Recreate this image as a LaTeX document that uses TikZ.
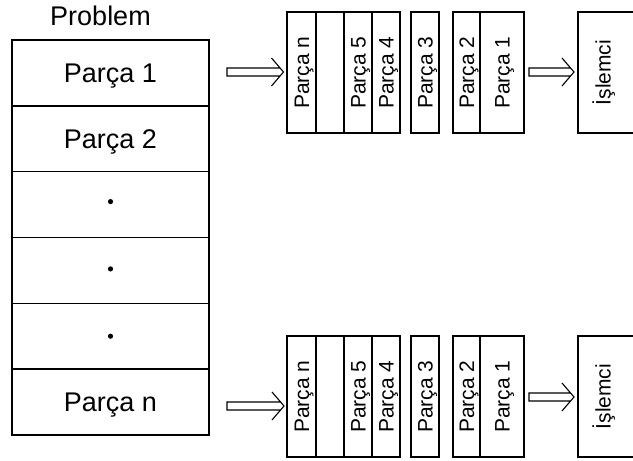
\documentclass[tikz,border=0pt]{standalone}
\usepackage{fontspec}
\setmainfont{Liberation Sans}
\newcommand\hollowarr[2]{%
  \draw[hollow] ([shift={(-3.4,-4)}]#2) -- ([shift={(0,-4)}]#1) -- ([shift={(0,4)}]#1) -- ([shift={(-3.4,4)}]#2)
    ([shift={(-12,-14)}]#2) -- (#2) -- ([shift={(-12,14)}]#2);}
\begin{document}
\begin{tikzpicture}[x=1pt,y=-1pt,line width=1.4pt,
  row/.style={draw, minimum width=197, minimum height=65.8, inner sep=0,
    text height=19.5, text depth=0, font=\fontsize{27}{30}\selectfont},
  cell/.style={draw, rotate=90, minimum width=121, minimum height=#1, inner sep=0,
    text height=15.2, text depth=0, font=\fontsize{21}{24}\selectfont},
  celltext/.style={rotate=90, inner sep=0, text height=15.2, text depth=0, font=\fontsize{21}{24}\selectfont},
  hollow/.style={line width=1.1pt, line join=miter}]
\clip (0,0) rectangle (633,461);
\useasboundingbox (0,0) rectangle (633,461);

% left column
\node[anchor=base, inner sep=0, font=\fontsize{27}{30}\selectfont] (title) at (100.5,25) {Problem};
\node[row] (r1) at (110.5,72.9) {Parça 1};
\node[row] (r2) at (110.5,138.7) {Parça 2};
\node[row] (r3) at (110.5,204.6) {};
\node[row] (r4) at (110.5,270.4) {};
\node[row] (r5) at (110.5,336.2) {};
\node[row] (r6) at (110.5,402.1) {Parça n};
\fill ([yshift=3]r3.center) circle (2.6);
\fill ([yshift=1.5]r4.center) circle (2.6);
\fill (r5.center) circle (2.6);

% top queue
\node[cell=29] (a1) at (301.5,72.5) {Parça n};
\node[cell=28] (a2) at (330,72.5) {};
\node[cell=28] (a3) at (358,72.5) {Parça 5};
\node[cell=28] (a4) at (386,72.5) {Parça 4};
\node[cell=28] (a5) at (425,72.5) {Parça 3};
\node[cell=27] (a6) at (466.5,72.5) {Parça 2};
\node[cell=44] (a7) at (502,72.5) {Parça 1};
\node[cell=70] (ap) at (613,72.5) {};
\node[celltext] (apt) at (603,72.5) {İşlemci};

% bottom queue
\node[cell=29] (b1) at (301.5,396.5) {Parça n};
\node[cell=28] (b2) at (330,396.5) {};
\node[cell=28] (b3) at (358,396.5) {Parça 5};
\node[cell=28] (b4) at (386,396.5) {Parça 4};
\node[cell=28] (b5) at (425,396.5) {Parça 3};
\node[cell=27] (b6) at (466.5,396.5) {Parça 2};
\node[cell=44] (b7) at (502,396.5) {Parça 1};
\node[cell=70] (bp) at (613,396.5) {};
\node[celltext] (bpt) at (603,396.5) {İşlemci};

% arrows
\coordinate (s1) at (227,72);  \coordinate (t1) at (283.5,72);
\coordinate (s2) at (529,72);  \coordinate (t2) at (574,72);
\coordinate (s3) at (227,406); \coordinate (t3) at (284,406);
\coordinate (s4) at (529,397); \coordinate (t4) at (574,397);
\hollowarr{s1}{t1}
\hollowarr{s2}{t2}
\hollowarr{s3}{t3}
\hollowarr{s4}{t4}
\end{tikzpicture}
\end{document}
